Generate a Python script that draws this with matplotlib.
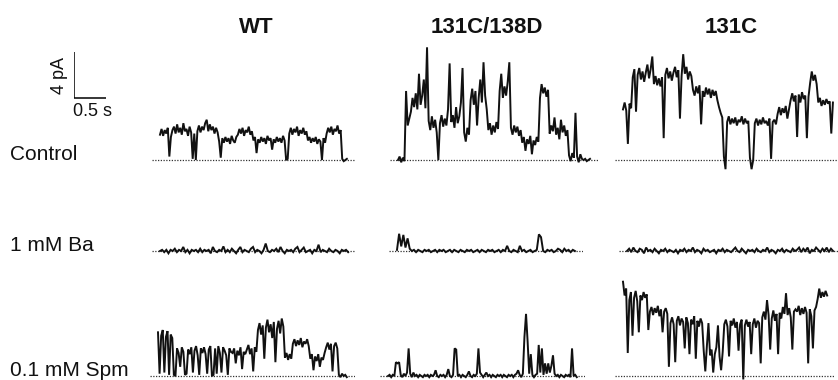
import numpy as np
import matplotlib.pyplot as plt

plt.rcParams['font.family'] = ['Liberation Sans', 'DejaVu Sans']

W, H = 838, 380
PX_S = 64.0    # pixels per second (0.5 s bar = 32 px)
PX_PA = 11.5   # pixels per pA (4 pA bar = 46 px)

columns = ['WT', '131C/138D', '131C']
conditions = ['Control', '1 mM Ba', '0.1 mM Spm']
bar_pa = 4
bar_s = 0.5

# single-channel currents (pA)
wt_control = [2.2, 2.7, 2.1, 2.6, 2.3, 2.8, 0.3,
              2.0, 2.6, 2.9, 2.3, 3.1, 2.4, 2.8, 2.2, 3.2, 2.5, 2.7, 2.1, 2.9, 2.4,
              0.1, 2.3, 0.0,
              2.5, 3.0, 2.4, 2.9, 2.6, 3.2, 3.5, 2.5, 3.1, 2.6, 2.9, 2.3, 2.8, 2.4,
              1.6, 0.2, 1.9, 1.5, 2.0, 1.6, 1.9, 1.4, 2.1, 1.7, 1.5, 2.0,
              2.2, 2.7, 2.3, 2.8, 2.1, 2.6, 2.4, 2.9, 2.2, 2.5,
              1.7, 2.0, 0.6, 1.8, 1.5, 2.0, 1.6, 1.9, 1.4, 2.1, 1.7, 1.9, 0.9, 1.8, 1.5,
              2.0, 1.6, 1.9, 1.5, 2.1, 1.7,
              0.0, 0.1,
              2.3, 2.8, 2.2, 2.7, 2.4, 2.9, 2.1, 2.6, 2.3, 2.8, 2.2, 2.5,
              1.7, 2.0, 1.5, 1.9, 1.6, 2.0, 1.4, 1.8, 1.6, 0.0, 1.9, 1.5,
              2.3, 2.8, 2.4, 2.9, 2.2, 2.7, 2.5, 3.0, 2.3, 2.6,
              0.1, -0.1, 0.0, 0.1]
d138_control = [0.0, 0.3, -0.2, 0.2, -0.1,
                6.0, 3.0, 3.6,
                4.2, 5.4, 4.6, 5.8, 4.4, 7.5, 4.8, 5.6, 7.0, 4.5, 9.8,
                3.4, 2.6, 3.8, 2.8, 3.5, 2.4,
                0.0,
                3.2, 3.9, 2.9, 3.6, 3.0, 4.4, 8.4, 3.3, 3.9, 2.8, 4.6, 3.2, 3.8, 5.0, 8.0,
                2.4, 1.6, 2.8, 2.2,
                5.2, 6.2, 4.8, 6.0, 3.0, 5.4, 7.0, 5.0, 8.5, 5.6, 4.4,
                2.6, 3.2, 2.2, 3.0, 2.4, 3.3, 2.7,
                6.0, 7.5, 5.4, 6.4, 5.6, 6.8, 8.5,
                2.8, 2.2, 3.0, 2.4, 2.9, 2.1, 2.6,
                1.5, 2.0, 0.8, 1.8, 1.4, 2.1, 0.5, 1.7, 1.3, 2.0, 1.6,
                5.4, 6.6, 5.8, 6.3, 5.5, 6.1,
                2.3, 3.0, 2.5, 3.7, 2.2, 2.8, 1.8, 3.5, 2.4, 3.0, 2.1, 2.6,
                0.4, -0.1, 0.6, 0.2, 4.1, 0.3, -0.2, 0.5, 0.1,
                0.0, 0.1, -0.1, 0.0, 0.1]
c131_control = [4.4, 5.0, 4.3, 1.4, 4.9, 4.5,
                7.2, 7.9, 4.2, 7.4, 8.0, 7.0, 7.7, 6.8, 7.6, 8.3, 7.1, 7.9, 9.0,
                6.6, 7.3, 6.5, 7.1, 6.4, 7.2, 1.9,
                7.4, 8.0, 7.1, 7.7, 6.9, 7.6, 8.1, 7.2, 7.8, 3.6, 7.3, 9.2, 7.5, 8.1, 7.0,
                7.7, 7.3,
                6.1, 5.6, 6.4, 5.8, 6.5, 3.1, 6.0, 5.5, 6.3, 5.7, 6.2, 5.4, 6.1, 5.6, 6.0,
                5.2, 4.6, 4.1, 3.7,
                0.3, -0.8,
                3.3, 3.8, 3.1, 3.6, 3.2, 3.7, 3.0, 3.5, 3.3, 3.8, 3.1, 3.6, 3.2, 3.4,
                0.2, -0.8, 0.0,
                3.2, 3.6, 3.0, 3.5, 3.1, 3.7, 3.2, 3.4, 3.0, 3.6, 0.1, 3.3, 3.5, 3.1,
                4.0, 4.6, 3.9, 4.5, 4.1, 4.7, 3.6, 4.4,
                5.2, 5.8, 5.1, 5.6, 2.0, 5.7, 5.0, 5.9, 5.3, 5.6, 1.9, 5.5,
                6.7, 7.7, 6.9, 7.4, 6.6,
                5.0, 5.4, 4.7, 5.2, 4.8, 5.3, 4.9, 5.1, 2.3, 5.0]

wt_ba = [0.0, 0.1, -0.1, 0.1, -0.2, 0.1, 0.0, 0.2, -0.1, 0.1,
         0.0, 0.35, -0.1, 0.1, -0.2, 0.1, 0.0, 0.1, -0.1, 0.2,
         -0.1, 0.1, 0.0, 0.1, -0.2, 0.35, 0.0, -0.1, 0.1, 0.0,
         0.4, -0.1, 0.1, -0.1, 0.2, 0.0, -0.2, 0.1, 0.35, -0.1,
         0.1, 0.0, -0.1, 0.2, 0.35, -0.1, 0.1, 0.0, -0.2, 0.1,
         0.65, 0.0, -0.1, 0.1, 0.0, 0.2, -0.1, 0.35, 0.0, -0.2,
         0.1, 0.0, 0.1, -0.1, 0.2, 0.35, -0.1, 0.1, 0.3, -0.1,
         0.0, 0.1, -0.2, 0.1, 0.0, 0.55, -0.1, 0.1, 0.0, -0.1,
         0.2, 0.0, -0.1, 0.1, 0.0, -0.2, 0.1, 0.0, 0.1, -0.1]
d138_ba = [0.1, 1.5, 0.4, 1.4, 0.3, 1.1, 0.2, 0.0, 0.1, -0.1,
           0.1, 0.0, -0.1, 0.1, 0.0, 0.1, -0.1, 0.0, 0.1, -0.1,
           0.1, 0.0, 0.1, -0.1, 0.0, 0.1, -0.1, 0.1, 0.0, -0.1,
           0.1, 0.0, -0.1, 0.1, 0.0, 0.1, -0.1, 0.0, 0.1, -0.1,
           0.1, 0.0, -0.1, 0.1, 0.0, 0.1, -0.1, 0.0, 0.1, -0.1,
           0.1, 0.0, 0.45, 0.0, -0.1, 0.1, 0.0, -0.1, 0.45, 0.0,
           0.1, -0.1, 0.0, 0.1, -0.1, 0.0, 0.1, 1.45, 1.2, 0.0,
           -0.1, 0.1, 0.0, 0.1, -0.1, 0.0, 0.2, 0.1, -0.1, 0.2,
           0.0, 0.1, -0.1, 0.1, 0.0]
c131_ba = [0.0, 0.2, -0.1, 0.3, 0.0, -0.1, 0.2, 0.1, -0.2, 0.3,
           0.0, 0.1, -0.1, 0.2, 0.0, -0.2, 0.1, 0.0, 0.2, -0.1,
           0.1, 0.0, -0.1, 0.1, -0.2, 0.1, 0.0, 0.2, -0.1, 0.1,
           0.0, 0.3, -0.1, 0.1, 0.0, -0.2, 0.2, 0.0, 0.1, -0.1,
           0.0, 0.1, -0.2, 0.1, 0.0, 0.2, -0.1, 0.1, 0.0, -0.1,
           0.1, 0.3, 0.0, -0.1, 0.2, 0.0, -0.2, 0.1, 0.0, 0.1,
           -0.1, 0.2, 0.0, -0.1, 0.1, 0.0, 0.3, -0.1, 0.1, 0.0,
           -0.2, 0.1, 0.0, 0.2, -0.1, 0.1, 0.0, -0.1, 0.2, 0.0,
           0.1, 0.3, -0.1, 0.2, 0.0, 0.3, -0.2, 0.1, 0.0, 0.3,
           0.1, -0.1, 0.2, 0.0, 0.3, -0.1, 0.2, 0.0]

wt_spm = [3.8, 0.2, 3.5, 4.0, 0.3, 3.4, 3.9, 0.1, 3.6, 3.3,
          0.1, 0.0,
          2.4, 2.0, 0.8, 2.5, 2.1,
          0.1, 0.2,
          2.3, 1.9, 2.5, 0.3, 2.2, 2.6, 1.8, 0.1, 2.4, 2.0, 2.5, 1.9, 0.2, 2.3, 2.6,
          0.0, 0.1,
          2.4, 0.2, 2.6, 2.0, 0.3, 2.5, 2.2, 1.8, 0.1, 2.4, 2.1,
          2.0, 2.4, 1.1, 2.2, 1.8, 2.5, 0.6, 2.1, 1.9,
          2.3, 2.7, 1.9, 2.4, 0.4, 2.5, 2.1,
          4.0, 4.6, 3.6, 4.4, 1.5, 4.2, 4.9, 3.8, 4.5, 3.3, 4.7, 1.2, 4.1, 4.8, 3.7,
          5.0, 4.3,
          1.6, 2.0, 1.4, 1.9, 1.5,
          2.8, 3.2, 2.6, 3.1, 2.7, 3.3, 2.5, 3.0, 2.8, 3.2, 2.6,
          1.5, 1.9, 0.5, 1.7, 1.3, 1.9, 0.8, 1.6, 1.4, 2.0,
          2.5, 2.9, 2.3, 2.8, 0.4, 2.6, 2.9, 2.4,
          0.1, -0.1, 0.2, 0.0, 0.1, -0.1]
d138_spm = [0.0, 0.1, -0.1, 0.1, 0.0, 1.2, 1.1, 1.2, 0.1, -0.1,
            0.2, 0.0, 0.3, 2.4, 0.2, -0.1, 0.3, 0.0, 0.1, -0.1,
            0.1, 0.0, -0.1, 0.1, 0.0, 0.1, -0.1, 0.1, 0.0, 0.1,
            0.5, 0.0, -0.1, 0.1, 0.0, 0.1, -0.1, 0.1, 0.6, 0.0,
            -0.1, 0.1, 2.4, 2.3, 0.0, 0.1, -0.1, 0.1, 0.0, -0.1,
            0.1, 0.4, 0.0, -0.1, 0.1, 0.0, 0.2, 2.4, 0.3, 0.1,
            -0.1, 0.1, 0.3, 0.0, 0.1, -0.1, 0.1, 0.0, -0.1, 0.1,
            0.0, 0.1, -0.1, 0.1, 0.0, -0.1, 0.1, 0.0, 0.1, -0.1,
            0.1, 0.2, 0.5, 0.1, -0.1, 0.2, 3.4, 5.4, 3.0, 0.2,
            1.9, 0.1, -0.1, 0.1, 0.2, 2.7, 0.3, 2.4, 0.1, 1.1,
            0.2, 1.1, 0.3, 0.9, 1.8, 0.2, 0.0, 0.1, -0.1, 0.1,
            0.0, -0.1, 0.1, 0.0, 0.1, -0.1, 2.4, 0.0, 0.1, -0.1]
c131_spm = [8.2, 7.0, 7.6, 2.0,
            6.6, 7.3, 3.5, 6.8, 7.4, 6.5, 3.8, 7.0, 6.6, 7.3, 6.8, 7.1,
            4.0, 5.6, 6.0, 5.3, 5.9, 5.5, 6.1, 5.2, 5.8, 3.8, 5.6, 5.9, 5.4,
            0.8,
            4.6, 5.1, 4.5, 1.2, 4.8, 5.2, 4.4, 5.0, 4.7, 2.4, 5.1, 4.6, 1.9, 4.9, 4.5,
            5.2, 1.5, 4.8, 4.3, 5.0, 4.6,
            2.2, 0.4, 2.6, 4.6, 1.8, 2.3, 0.3, 1.9, 2.5, 4.4, 1.7, 0.5, 2.1,
            4.5, 4.9, 4.3, 1.7, 4.8, 4.4, 5.0, 4.2, 4.7, 2.2, 4.5, 4.9, -0.3,
            4.4, 4.9, 4.3, 4.7, 1.9, 4.5, 5.0, 4.2, 4.8, 4.6,
            1.1, 5.1, 5.6, 4.9, 6.6, 5.3, 2.3, 5.0, 5.7, 4.8, 5.4, 1.9, 5.5, 5.0, 6.0,
            5.4, 7.2, 5.3, 5.9, 5.1, 2.3, 5.6, 5.8,
            5.6, 6.1, 5.3, 5.9, 5.4, 6.0, 5.5, 1.1, 5.8, 5.2, 2.4, 5.7, 6.0,
            6.7, 7.6, 6.8, 7.3, 6.9, 7.4, 7.0]

traces = [[wt_control, d138_control, c131_control],
          [wt_ba, d138_ba, c131_ba],
          [wt_spm, d138_spm, c131_spm]]
durations = [[2.92, 3.00, 3.28],
             [2.94, 2.78, 3.22],
             [2.95, 2.95, 3.19]]

# layout (pixels)
trace_left = [[160, 398, 623], [160, 397, 627], [158, 388, 623]]
baseline_y = [160, 251, 376]
title_x = [256, 487, 731]

fig = plt.figure(figsize=(W / 100, H / 100), dpi=100)


def trace_axes(x0, y0, dur, pad=8, below=12, above=125):
    ax = fig.add_axes([(x0 - pad) / W, 1 - (y0 + below) / H,
                       (dur * PX_S + 2 * pad) / W, (below + above) / H])
    ax.set_xlim(-pad / PX_S, dur + pad / PX_S)
    ax.set_ylim(-below / PX_PA, above / PX_PA)
    ax.axis('off')
    return ax


for r in range(3):
    for c in range(3):
        vals = traces[r][c]
        dur = durations[r][c]
        ax = trace_axes(trace_left[r][c], baseline_y[r], dur)
        ax.axhline(0, color='0.2', lw=0.9, ls=(0, (1, 1.2)), zorder=1)
        t = np.linspace(0, dur, len(vals))
        ax.plot(t, vals, color='#111111', lw=1.4, zorder=2, solid_joinstyle='miter')

for c, name in enumerate(columns):
    fig.text(title_x[c] / W, 1 - 33 / H, name, ha='center', va='baseline',
             fontsize=16, fontweight='bold', color='#111111')

for r, name in enumerate(conditions):
    fig.text(10 / W, 1 - baseline_y[r] / H, name, ha='left', va='baseline',
             fontsize=15, color='#111111')

# scale bar
sb = trace_axes(74, 98, bar_s, pad=0, below=2, above=50)
sb.plot([0, 0], [0, bar_pa], color='k', lw=1.1, solid_capstyle='butt')
sb.plot([0, bar_s], [0, 0], color='k', lw=1.1, solid_capstyle='butt')
fig.text(60 / W, 1 - 76 / H, '%d pA' % bar_pa, rotation=90, ha='center',
         va='center', fontsize=13, color='#111111')
fig.text(73 / W, 1 - 116 / H, '%.1f s' % bar_s, ha='left', va='baseline',
         fontsize=13, color='#111111')

fig.savefig('out.png', dpi=100)
